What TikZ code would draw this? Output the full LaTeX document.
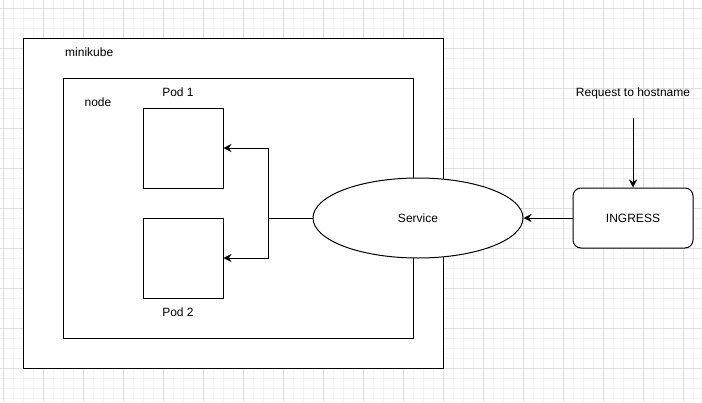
\documentclass[tikz,border=0pt]{standalone}
\usepackage{fontspec}
\setmainfont{Liberation Sans}
\usetikzlibrary{arrows.meta,shapes.geometric}
\definecolor{gridminor}{HTML}{F2F2F2}
\definecolor{gridmajor}{HTML}{DFDFDF}

\begin{document}
\begin{tikzpicture}[
    x=1pt, y=-1pt,
    box/.style={draw, line width=1pt, fill=white, inner sep=0pt},
    lbl/.style={font=\fontsize{12}{14}\selectfont, inner sep=0pt},
    arr/.style={line width=1pt, -{Stealth[length=8pt,width=8pt]}}
  ]
    \useasboundingbox[fill=white] (0,0) rectangle (702,402);
    % background grid
    \foreach \x in {3,13,...,703} \draw[gridminor, line width=0.6pt] (\x,0) -- (\x,402);
    \foreach \y in {8,18,...,402} \draw[gridminor, line width=0.6pt] (0,\y) -- (702,\y);
    \foreach \x in {3,43,...,703} \draw[gridmajor, line width=0.8pt] (\x,0) -- (\x,402);
    \foreach \y in {8,48,...,402} \draw[gridmajor, line width=0.8pt] (0,\y) -- (702,\y);

    \node[box, minimum width=420pt, minimum height=330pt] (minikube) at (233,203) {};
    \node[box, minimum width=350pt, minimum height=260pt] (node) at (238,208) {};
    \node[box, minimum width=80pt, minimum height=80pt] (pod1) at (183,148) {};
    \node[box, minimum width=80pt, minimum height=80pt] (pod2) at (183,258) {};
    \node[box, ellipse, minimum width=210pt, minimum height=80pt, lbl] (service) at (418,218) {Service};
    \node[box, rounded corners=8pt, minimum width=120pt, minimum height=60pt, lbl] (ingress) at (633,218) {INGRESS};

    \node[lbl, anchor=west] (minikubelbl) at (65,52) {minikube};
    \node[lbl] (nodelbl) at (98,102) {node};
    \node[lbl] (pod1lbl) at (178,92) {Pod 1};
    \node[lbl] (pod2lbl) at (178,312) {Pod 2};
    \node[lbl] (request) at (633,93) {Request to hostname};
    \coordinate (reqend) at (633,118);
    \coordinate (split) at (268,218);

    \draw[line width=1pt] (service.west) -- (split);
    \draw[arr] (split) |- (pod1.east);
    \draw[arr] (split) |- (pod2.east);
    \draw[arr] (ingress.west) -- (service.east);
    \draw[arr] (reqend) -- (ingress.north);
  \end{tikzpicture}
\end{document}
